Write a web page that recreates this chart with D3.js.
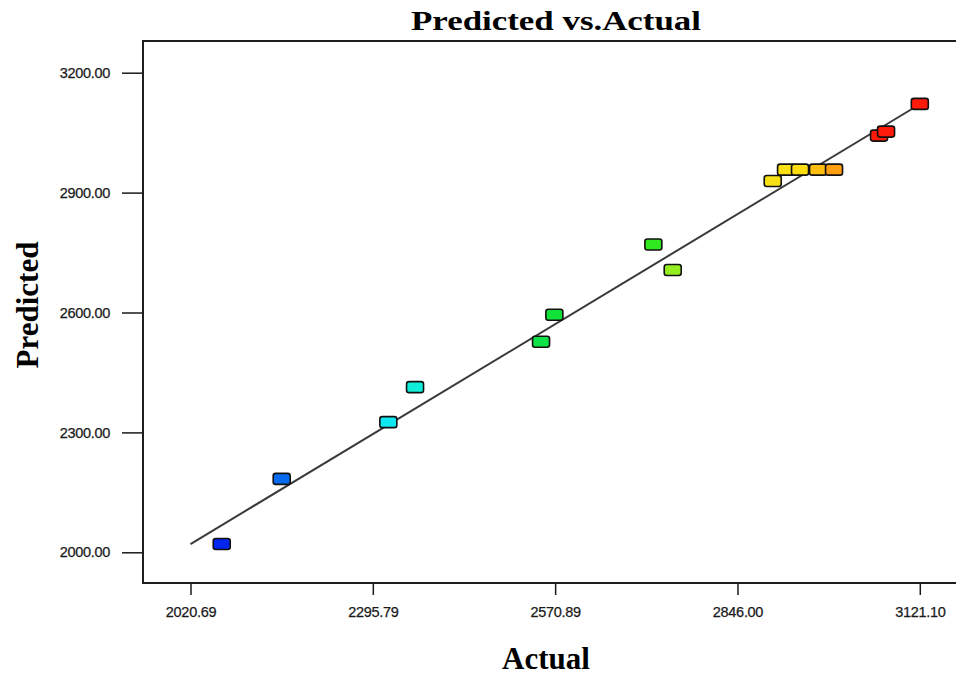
<!DOCTYPE html>
<html>
<head>
<meta charset="utf-8">
<script src="https://cdn.jsdelivr.net/npm/d3@7"></script>
<style>
  html, body { margin: 0; padding: 0; background: #fff; }
  svg { display: block; }
  .tick text { font-family: "Liberation Sans", Arial, sans-serif; font-size: 14.5px; fill: #1a1a1a;
               stroke: #1a1a1a; stroke-width: 0.25; letter-spacing: -0.3px; }
  .tick line { stroke: #1a1a1a; stroke-width: 1.5; }
</style>
</head>
<body>
<svg id="chart" width="956" height="677"></svg>
<script>
// Design points: actual response vs. model prediction
const actual    = [2067.8, 2158.3, 2319.2, 2359.5, 2549.6, 2569.7, 2719.1, 2748.3,
                   2899.2, 2919.3, 2940.4, 2967.6, 2991.7, 3059.6, 3070.2, 3121.1];
const predicted = [2020.8, 2183.6, 2325.6, 2413.2, 2526.7, 2594.3, 2770.3, 2706.2,
                   2929.1, 2957.4, 2957.4, 2957.4, 2957.4, 3042.6, 3052.6, 3121.9];

// Axis ticks
const xTicks = [2020.69, 2295.79, 2570.89, 2846.00, 3121.10];
const yTicks = [2000, 2300, 2600, 2900, 3200];

// Colour ramp stops for the response value
const rampStops  = [2020.69, 2330, 2600, 2720, 2770, 2945, 2995, 3055];
const rampColors = ["#0000f0", "#10f0f0", "#10e020", "#30e820", "#e0f020", "#ffdc10", "#ff9a10", "#ff1a0a"];

const svg = d3.select("#chart");

const x = d3.scaleLinear().domain([xTicks[0], xTicks[xTicks.length - 1]]).range([190.5, 919.8]);
const y = d3.scaleLinear().domain([yTicks[0], yTicks[yTicks.length - 1]]).range([552.3, 72.7]);
const color = d3.scaleLinear().domain(rampStops).range(rampColors).clamp(true);

const frame = { left: 143, top: 41, bottom: 583 };

// Plot frame (right side runs past the canvas)
svg.append("rect")
  .attr("x", frame.left).attr("y", frame.top)
  .attr("width", 900).attr("height", frame.bottom - frame.top)
  .attr("fill", "none").attr("stroke", "#1e1e1e").attr("stroke-width", 2);

// Y axis
const yAxis = svg.append("g")
  .attr("transform", `translate(${frame.left},0)`)
  .call(d3.axisLeft(y).tickValues(yTicks).tickSize(21).tickSizeOuter(0).tickPadding(12)
        .tickFormat(d3.format(".2f")));
yAxis.select(".domain").remove();

// X axis
const xAxis = svg.append("g")
  .attr("transform", `translate(0,${frame.bottom})`)
  .call(d3.axisBottom(x).tickValues(xTicks).tickSize(12).tickSizeOuter(0).tickPadding(12)
        .tickFormat(d3.format(".2f")));
xAxis.select(".domain").remove();

// Reference line: predicted = actual
const lo = xTicks[0], hi = xTicks[xTicks.length - 1];
svg.append("line")
  .attr("x1", x(lo)).attr("y1", y(lo))
  .attr("x2", x(hi)).attr("y2", y(hi))
  .attr("stroke", "#3a3a3a").attr("stroke-width", 2);

// Points
const pts = actual.map((a, i) => ({ a, p: predicted[i] }));
svg.append("g").selectAll("rect")
  .data(pts)
  .join("rect")
  .attr("x", d => x(d.a) - 8.5)
  .attr("y", d => y(d.p) - 5.5)
  .attr("width", 17).attr("height", 11)
  .attr("rx", 2.5).attr("ry", 2.5)
  .attr("fill", d => color(d.a))
  .attr("stroke", "#111").attr("stroke-width", 1.6);

// Titles
svg.append("text")
  .attr("x", 556).attr("y", 30)
  .attr("text-anchor", "middle")
  .attr("font-family", "Liberation Serif, Times New Roman, serif")
  .attr("font-weight", "bold").attr("font-size", 28)
  .attr("textLength", 290).attr("lengthAdjust", "spacingAndGlyphs")
  .text("Predicted vs.Actual");

svg.append("text")
  .attr("x", 546).attr("y", 669)
  .attr("text-anchor", "middle")
  .attr("font-family", "Liberation Serif, Times New Roman, serif")
  .attr("font-weight", "bold").attr("font-size", 31)
  .text("Actual");

svg.append("text")
  .attr("transform", "translate(38,305) rotate(-90)")
  .attr("text-anchor", "middle")
  .attr("font-family", "Liberation Serif, Times New Roman, serif")
  .attr("font-weight", "bold").attr("font-size", 31)
  .text("Predicted");
</script>
</body>
</html>
